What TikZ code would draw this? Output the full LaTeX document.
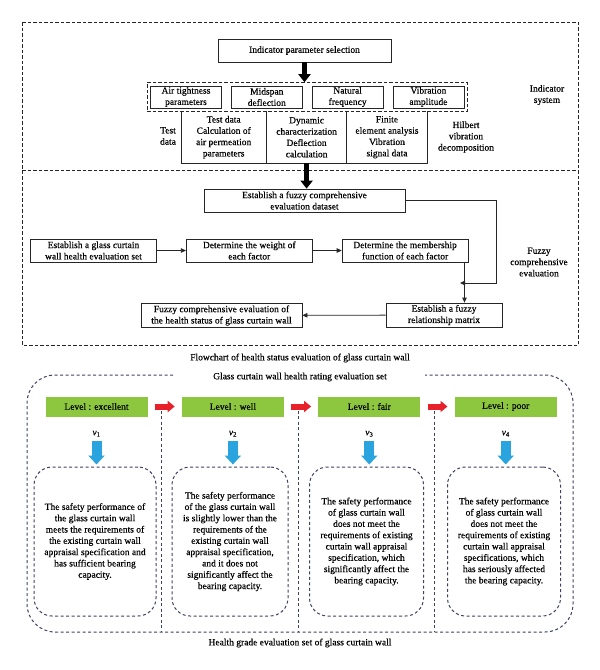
\documentclass[tikz,border=0pt]{standalone}
\usepackage{fontspec}
\setmainfont{Liberation Serif}[FakeBold=0.3]
\usetikzlibrary{positioning,fit,arrows.meta}
\definecolor{lvgreen}{HTML}{8DC63F}
\definecolor{arred}{HTML}{E8202A}
\definecolor{arblue}{HTML}{2AA4DE}
\definecolor{dashgray}{HTML}{3E4160}

\begin{document}
\begin{tikzpicture}[x=1pt, y=-1pt,
    font=\fontsize{9.5pt}{11.3pt}\selectfont,
    box/.style={draw=black!85, line width=0.8pt, align=center, inner sep=0.5pt},
    pbox/.style={box, minimum width=71pt, minimum height=22pt},
    rowbox/.style={box, minimum width=126pt, minimum height=23pt},
    cell/.style={align=center, inner sep=0pt, minimum height=52pt},
    txt/.style={align=center, inner sep=0pt},
    topdash/.style={draw=black!85, line width=0.8pt, dash pattern=on 3.5pt off 2pt},
    bdash/.style={draw=dashgray, line width=1pt, dash pattern=on 3pt off 2.5pt},
    bigarrow/.style={draw=black, line width=4.5pt, -{Triangle[length=8pt,width=12pt]}},
    link/.style={draw=black!85, line width=0.8pt, -{Triangle[length=5pt,width=4.5pt]}},
    lvl/.style={fill=lvgreen, minimum width=102pt, minimum height=20pt, inner sep=0pt},
    dbox/.style={bdash, rounded corners=18pt, align=center, inner sep=0pt, minimum height=149pt},
    redarr/.style={draw=arred, line width=6pt, -{Triangle[length=7pt,width=11pt]}, shorten <=7pt, shorten >=7pt},
    bluearr/.style={draw=arblue, line width=10pt, -{Triangle[length=9pt,width=16pt]}, shorten <=4pt, shorten >=2pt}]
      \useasboundingbox (0,0) rectangle (600,670);

      \draw [topdash] (22,22) rectangle (578,345);
      \draw [topdash] (22,170) -- (578,170);

      \node [box, minimum width=173pt, minimum height=23pt] (sel) at (304.5,50.5) {Indicator parameter selection};
      \node [pbox] (p1) at (186,97) {Air tightness\\parameters};
      \node [pbox, right=9pt of p1] (p2) {Midspan\\deflection};
      \node [pbox, right=9pt of p2] (p3) {Natural\\frequency};
      \node [pbox, right=9pt of p3] (p4) {Vibration\\amplitude};
      \node [topdash, fit=(p1)(p4), inner sep=3pt] (grp) {};
      \node [cell, minimum width=85pt, anchor=north west] (t1) at (181,111) {Test data\\Calculation of\\air permeation\\parameters};
      \node [cell, minimum width=80pt, right=0pt of t1] (t2) {Dynamic\\characterization\\Deflection\\calculation};
      \node [cell, minimum width=80pt, right=0pt of t2] (t3) {Finite\\element analysis\\Vibration\\signal data};
      \node [txt] (td) at (168,136) {Test\\data};
      \node [txt] (hv) at (466,137) {Hilbert\\vibration\\decomposition};
      \node [txt] (is) at (547,95) {Indicator\\system};

      \draw [box] (t1.north west) |- (t3.south east) -- (t3.north east);
      \draw [box] (t1.north east) -- (t1.south east) (t2.north east) -- (t2.south east);
      \draw [bigarrow] (sel.south) -- (sel.south |- grp.north);

      \node [box, minimum width=201pt, minimum height=23pt] (ds) at (304.5,200.5) {Establish a fuzzy comprehensive\\evaluation dataset};
      \node [rowbox] (a1) at (93.5,250.5) {Establish a glass curtain\\wall health evaluation set};
      \node [rowbox, right=29pt of a1] (a2) {Determine the weight of\\each factor};
      \node [rowbox, right=29pt of a2] (a3) {Determine the membership\\function of each factor};
      \node [box, minimum width=116pt, minimum height=24pt] (rel) at (444,315) {Establish a fuzzy\\relationship matrix};
      \node [box, minimum width=161pt, minimum height=24pt] (res) at (221.5,315.5) {Fuzzy comprehensive evaluation of\\the health status of glass curtain wall};
      \node [txt] (fc) at (539,262) {Fuzzy\\comprehensive\\evaluation};
      \node [txt] (cap1) at (300,358) {Flowchart of health status evaluation of glass curtain wall};
      \coordinate (rc) at (496,283);
      \coordinate (jn) at (460,283);

      \draw [bigarrow] (t2.south) -- (t2.south |- ds.north);
      \draw [link] (a1) -- (a2);
      \draw [link] (a2) -- (a3);
      \draw [link] (ds.east) -| (rc) -- (jn);
      \draw [link] ([xshift=-4pt]a3.south east) -- ([xshift=-4pt]a3.south east |- rel.north);
      \draw [link] (rel) -- (res);

      \node [txt] (ttl) at (300,377) {Glass curtain wall health rating evaluation set};
      \draw [bdash, rounded corners=28pt] (173,375) -| (27,632) -| (573,375) -- (425,375);
      \coordinate (fb) at (0,632);

      \node [lvl] (lv1) at (96.5,406.5) {Level : excellent};
      \node [lvl, right=34pt of lv1] (lv2) {Level : well};
      \node [lvl, right=34pt of lv2] (lv3) {Level : fair};
      \node [lvl, right=34pt of lv3] (lv4) {Level : poor};
      \node [txt, below=14pt of lv1] (v1) {\textit{v}\textsubscript{1}};
      \node [txt, below=14pt of lv2] (v2) {\textit{v}\textsubscript{2}};
      \node [txt, below=14pt of lv3] (v3) {\textit{v}\textsubscript{3}};
      \node [txt, below=14pt of lv4] (v4) {\textit{v}\textsubscript{4}};
      \node [dbox, minimum width=122pt] (d1) at (95,541.5) {The safety performance of\\the glass curtain wall\\meets the requirements of\\the existing curtain wall\\appraisal specification and\\has sufficient bearing\\capacity.};
      \node [dbox, minimum width=116pt] (d2) at (230,541.5) {The safety performance\\of the glass curtain wall\\is slightly lower than the\\requirements of the\\existing curtain wall\\appraisal specification,\\and it does not\\significantly affect the\\bearing capacity.};
      \node [dbox, minimum width=114pt] (d3) at (366.5,541.5) {The safety performance\\of glass curtain wall\\does not meet the\\requirements of existing\\curtain wall appraisal\\specification, which\\significantly affect the\\bearing capacity.};
      \node [dbox, minimum width=113pt] (d4) at (504,541.5) {The safety performance\\of glass curtain wall\\does not meet the\\requirements of existing\\curtain wall appraisal\\specifications, which\\has seriously affected\\the bearing capacity.};
      \node [txt] (cap2) at (300,643) {Health grade evaluation set of glass curtain wall};

      \draw [bdash] ([xshift=14pt,yshift=-4pt]lv1.east) -- ([xshift=14pt]lv1.east |- fb);
      \draw [bdash] ([xshift=14pt,yshift=-4pt]lv2.east) -- ([xshift=14pt]lv2.east |- fb);
      \draw [bdash] ([xshift=14pt,yshift=-4pt]lv3.east) -- ([xshift=14pt]lv3.east |- fb);
      \draw [redarr] (lv1) -- (lv2);
      \draw [redarr] (lv2) -- (lv3);
      \draw [redarr] (lv3) -- (lv4);
      \draw [bluearr] (v1.south) -- (v1.south |- d1.north);
      \draw [bluearr] (v2.south) -- (v2.south |- d2.north);
      \draw [bluearr] (v3.south) -- (v3.south |- d3.north);
      \draw [bluearr] (v4.south) -- (v4.south |- d4.north);
\end{tikzpicture}
\end{document}
